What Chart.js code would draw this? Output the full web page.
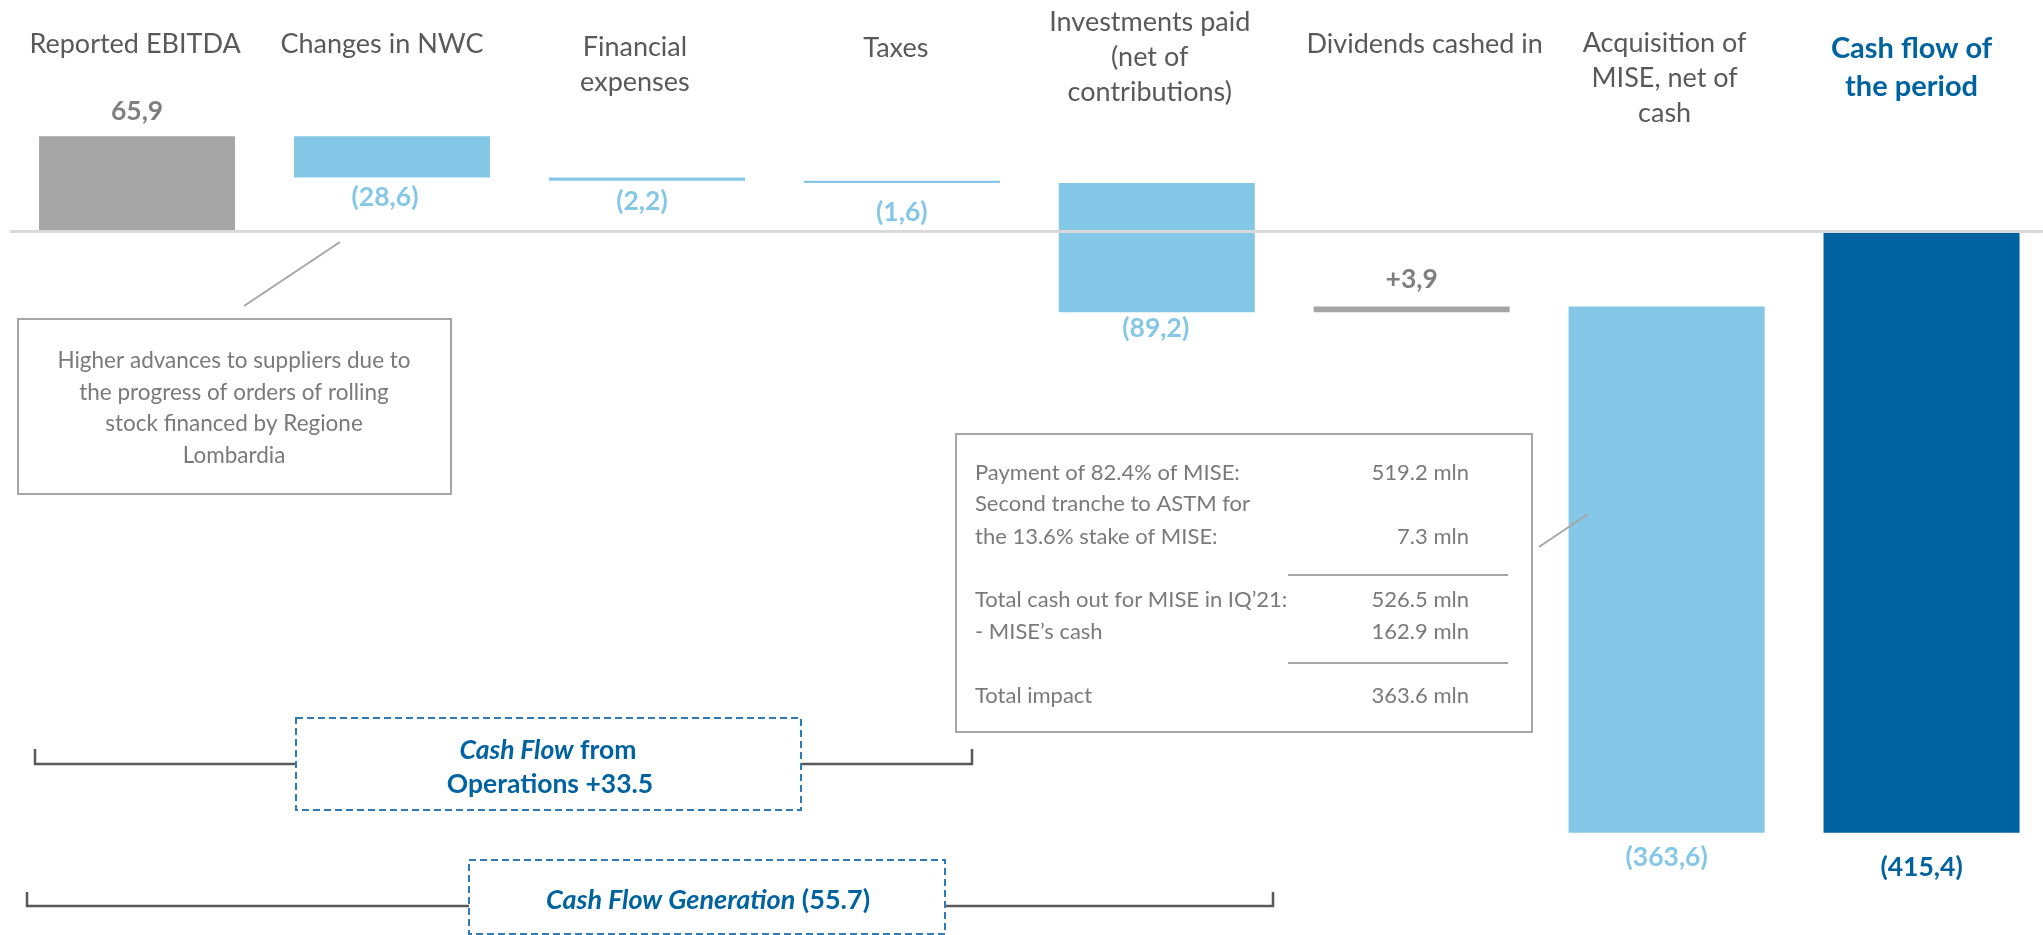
<!DOCTYPE html>
<html><head><meta charset="utf-8">
<script src="https://cdn.jsdelivr.net/npm/chart.js@4.4.1/dist/chart.umd.min.js"></script>
<style>
html,body{margin:0;padding:0;background:#fff;overflow:hidden;width:2043px;height:935px}
canvas{display:block}
</style>
</head><body>
<canvas id="c" width="2049" height="935"></canvas>
<script>
// ---- DATA ----
const categories = [
  ["Reported EBITDA"],
  ["Changes in NWC"],
  ["Financial", "expenses"],
  ["Taxes"],
  ["Investments paid", "(net of", "contributions)"],
  ["Dividends cashed in"],
  ["Acquisition of", "MISE, net of", "cash"],
  ["Cash flow of", "the period"]
];
const changes = [65.9, -28.6, -2.2, -1.6, -89.2, 3.9, -363.6, -415.4];
const isTotal = [true, false, false, false, false, false, false, true];
const valueLabels = ["65,9", "(28,6)", "(2,2)", "(1,6)", "(89,2)", "+3,9", "(363,6)", "(415,4)"];
const noteNWC = ["Higher advances to suppliers due to", "the progress of orders of rolling", "stock financed by Regione", "Lombardia"];
const noteMiseLabels = ["Payment of 82.4% of MISE:", "Second tranche to ASTM for", "the 13.6% stake of MISE:", "Total cash out for MISE in IQ\u201921:", "- MISE\u2019s cash", "Total impact"];
const noteMiseValues = ["519.2 mln", "", "7.3 mln", "526.5 mln", "162.9 mln", "363.6 mln"];
const cfoLabel = [[["Cash Flow", "italic bold"], [" from", "bold"]], [["Operations +33.5", "bold"]]];
const cfgLabel = [[["Cash Flow Generation", "italic bold"], [" (55.7)", "bold"]]];

// ---- build floating bars from the data ----
let run = 0;
const floating = changes.map((v, i) => {
  if (isTotal[i]) { run = v; return [0, v]; }
  const s = run; run = +(run + v).toFixed(1); return [s, run];
});

const GRAY = '#a5a5a5', LIGHT = '#84c7e6', DARK = '#0063a1';
const last = changes.length - 1;
const barColors = changes.map((v, i) => i === last ? DARK : (v > 0 ? GRAY : LIGHT));
const labelColors = changes.map((v, i) => i === last ? DARK : (v > 0 ? '#7f7f7f' : LIGHT));

const FONT = 'Lato, "Open Sans", sans-serif';

// style / layout options (not data)
const catLabelTop = [44, 44, 47, 48, 22, 44, 43, 49];
const catLabelDx = [-2, -10, -12, -6, -7, 13, -2, -10];
const valueOffset = [25, 20, 21, 29, 16, 27, 25, 35];
const valueDx = [0, -7, -5, 0, -1, 0, 0, 0];

function drawRuns(ctx, runs, cx, cy, size, color) {
  let total = 0;
  runs.forEach(r => { ctx.font = r[1] + ' ' + size + 'px ' + FONT; total += ctx.measureText(r[0]).width; });
  let x = cx - total / 2;
  ctx.fillStyle = color; ctx.textAlign = 'left'; ctx.textBaseline = 'middle';
  runs.forEach(r => { ctx.font = r[1] + ' ' + size + 'px ' + FONT; ctx.fillText(r[0], x, cy); x += ctx.measureText(r[0]).width; });
}

const overlay = {
  id: 'overlay',
  afterDatasetsDraw(chart) {
    const ctx = chart.ctx, xs = chart.scales.x, ys = chart.scales.y;
    const y0 = ys.getPixelForValue(0);
    ctx.save();
    // baseline
    ctx.strokeStyle = '#d9d9d9'; ctx.lineWidth = 3;
    ctx.beginPath(); ctx.moveTo(10, y0); ctx.lineTo(2043, y0); ctx.stroke();

    // category labels
    ctx.textAlign = 'center'; ctx.textBaseline = 'middle';
    categories.forEach((lines, i) => {
      const cx = xs.getPixelForValue(i) + catLabelDx[i];
      const tot = i === last;
      ctx.font = (tot ? 'bold 29px ' : '27px ') + FONT;
      ctx.fillStyle = tot ? DARK : '#595959';
      const lh = tot ? 38 : 35;
      lines.forEach((t, k) => ctx.fillText(t, cx, catLabelTop[i] + k * lh));
    });

    // value labels
    const meta = chart.getDatasetMeta(0);
    meta.data.forEach((bar, i) => {
      const [a, b] = floating[i];
      const top = ys.getPixelForValue(Math.max(a, b));
      const bot = ys.getPixelForValue(Math.min(a, b));
      const up = changes[i] > 0;
      const y = up ? top - valueOffset[i] : bot + valueOffset[i];
      ctx.font = 'bold 26.5px ' + FONT;
      ctx.fillStyle = labelColors[i];
      ctx.textAlign = 'center'; ctx.textBaseline = 'middle';
      ctx.fillText(valueLabels[i], bar.x + valueDx[i], y);
    });

    // note box 1
    ctx.strokeStyle = '#a6a6a6'; ctx.lineWidth = 2;
    ctx.strokeRect(18, 319, 433, 175);
    ctx.beginPath(); ctx.moveTo(340, 242); ctx.lineTo(244, 306); ctx.stroke();
    ctx.font = '22.5px ' + FONT; ctx.fillStyle = '#7a7a7a';
    noteNWC.forEach((t, k) => ctx.fillText(t, 234, 361 + k * 31.6));

    // note box 2
    ctx.strokeRect(956, 434, 576, 298);
    ctx.beginPath(); ctx.moveTo(1539, 547); ctx.lineTo(1588, 514); ctx.stroke();
    ctx.beginPath(); ctx.moveTo(1288, 575); ctx.lineTo(1508, 575); ctx.moveTo(1288, 663); ctx.lineTo(1508, 663); ctx.stroke();
    const rowsY = [473, 504, 537, 600, 632, 696];
    ctx.font = '22px ' + FONT;
    noteMiseLabels.forEach((t, k) => { ctx.textAlign = 'left'; ctx.fillText(t, 975, rowsY[k]); });
    noteMiseValues.forEach((t, k) => { ctx.textAlign = 'right'; ctx.fillText(t, 1469, rowsY[k]); });

    // brackets
    ctx.strokeStyle = '#595959'; ctx.lineWidth = 2.5;
    ctx.beginPath();
    ctx.moveTo(35, 749); ctx.lineTo(35, 764); ctx.lineTo(296, 764);
    ctx.moveTo(801, 764); ctx.lineTo(972, 764); ctx.lineTo(972, 749);
    ctx.moveTo(27, 892); ctx.lineTo(27, 906); ctx.lineTo(469, 906);
    ctx.moveTo(945, 906); ctx.lineTo(1273, 906); ctx.lineTo(1273, 892);
    ctx.stroke();

    // dashed boxes
    ctx.strokeStyle = '#2e7bb8'; ctx.lineWidth = 2; ctx.setLineDash([7, 4]);
    ctx.strokeRect(296, 718, 505, 92);
    ctx.strokeRect(469, 860, 476, 74);
    ctx.setLineDash([]);
    drawRuns(ctx, cfoLabel[0], 548, 750, 26.5, DARK);
    drawRuns(ctx, cfoLabel[1], 550, 784, 26.5, DARK);
    drawRuns(ctx, cfgLabel[0], 708, 900, 27, DARK);
    ctx.restore();
  }
};

new Chart(document.getElementById('c'), {
  type: 'bar',
  data: {
    labels: categories,
    datasets: [{
      data: floating,
      backgroundColor: barColors,
      borderWidth: 0,
      borderSkipped: false,
      barPercentage: 0.769,
      categoryPercentage: 1.0
    }]
  },
  options: {
    responsive: false,
    animation: false,
    layout: { padding: { left: 9.6, right: 0, top: 0, bottom: 0 } },
    plugins: { legend: { display: false }, tooltip: { enabled: false } },
    scales: {
      x: { display: false, offset: true, grid: { display: false } },
      y: { display: false, min: -486, max: 160 }
    }
  },
  plugins: [overlay]
});
</script>
</body></html>
